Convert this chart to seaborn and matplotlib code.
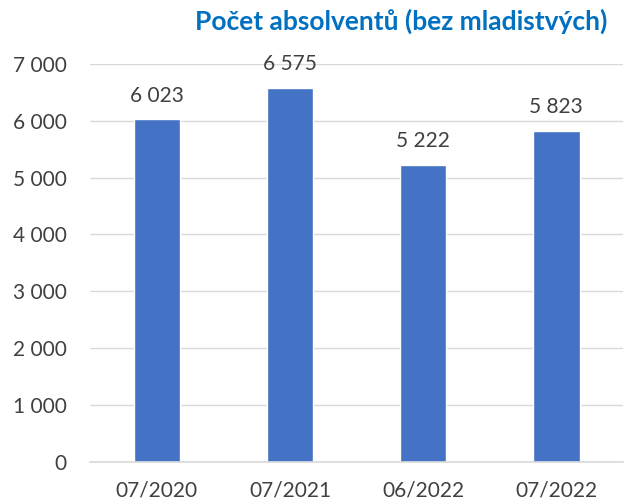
import matplotlib
matplotlib.use("Agg")
import matplotlib.pyplot as plt
import seaborn as sns
import pandas as pd

categories = ["07/2020", "07/2021", "06/2022", "07/2022"]
values = [6023, 6575, 5222, 5823]
yticks = [0, 1000, 2000, 3000, 4000, 5000, 6000, 7000]
title = "Počet absolventů (bez mladistvých)"

sns.set_theme(style="white")
plt.rcParams['font.family'] = ['Lato', 'DejaVu Sans']

df = pd.DataFrame({"cat": categories, "val": values})
fig = plt.figure(figsize=(6.31, 5.04), dpi=100)
ax = fig.add_axes([0.143, 0.0833, 0.844, 0.79])
sns.barplot(data=df, x="cat", y="val", color="#4472C4", width=0.35, ax=ax, saturation=1)
ax.set_ylim(0, 7000)
ax.set_yticks(yticks)
fmt = lambda v: f"{v:,}".replace(",", " ")
ax.set_yticklabels([fmt(v) for v in yticks])
ax.yaxis.grid(True, color="#D9D9D9", linewidth=1)
ax.set_axisbelow(True)
for s in ["top", "right", "left"]:
    ax.spines[s].set_visible(False)
ax.spines["bottom"].set_color("#D9D9D9")
ax.spines["bottom"].set_linewidth(1.2)
ax.set_xlabel("")
ax.set_ylabel("")
ax.tick_params(axis="both", length=0, labelsize=15, colors="#404040")
ax.tick_params(axis="x", pad=13)
ax.tick_params(axis="y", pad=17)
for i, v in enumerate(values):
    ax.annotate(fmt(v), (i, v), xytext=(0, 10), textcoords="offset points",
                ha="center", va="bottom", fontsize=15, color="#404040")
fig.text(0.962, 0.957, title, ha="right", va="center", fontsize=19,
         fontweight="bold", color="#0070C0")
fig.savefig("out.png", dpi=100)
